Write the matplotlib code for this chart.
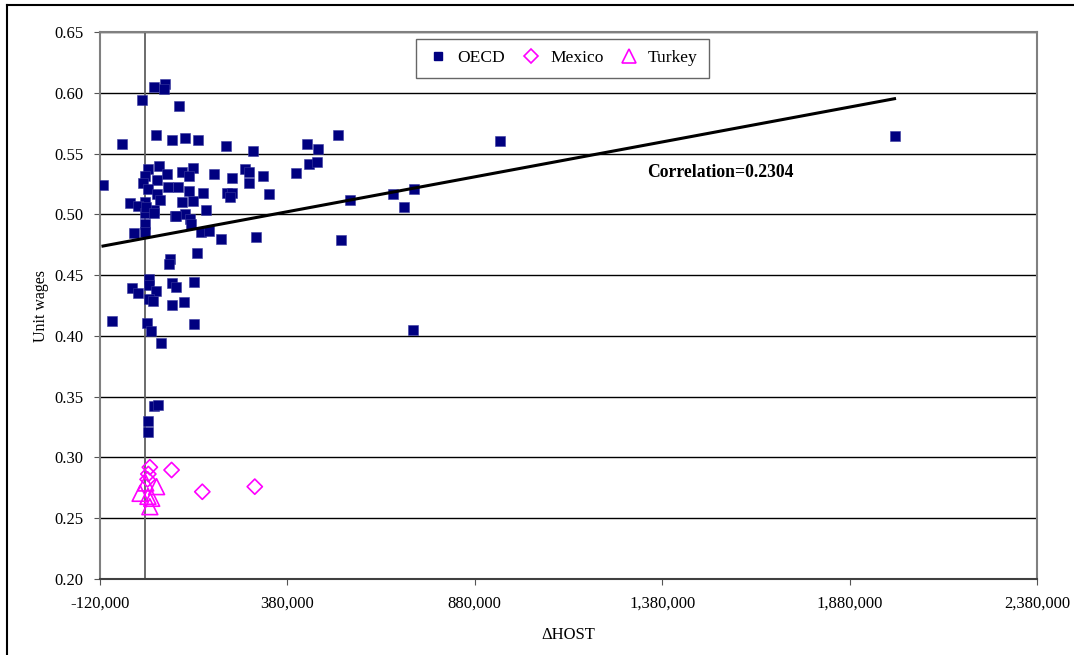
import numpy as np
import matplotlib
matplotlib.use("Agg")
import matplotlib.pyplot as plt
from matplotlib.lines import Line2D

plt.rcParams['font.family'] = ['Liberation Serif', 'DejaVu Serif']

# change in host employment vs unit wages
oecd_x = [23000, 53000, 51000, -9000, 91000, 28500, 71000, 108000, 142000, 216000,
          287000, -62000, -112000, 9000, 38000, 0, 98000, 127000, 58000, 118000,
          33000, 184000, 232000, 266000, 278000, 278000, -4000, 62000, 87000, 9000,
          118000, 154000, 220000, 231000, 227000, 33000, 40000, -41000, 0, 100000,
          129000, 162000, -18000, 23000, 0, 2700, 25000, 80000, 107000, 120000,
          84000, 0, 0, -29000, 124000, 149000, 171000, 203000, 296000, 140000,
          67000, 64000, 10700, 10700, -34000, -18000, 29000, 71000, 83000, 131000,
          10700, 22000, 71000, 104000, -87000, 4400, 15000, 130000, 44000, 24000,
          35500, 9000, 7000, 315000, 331000, 403000, 433000, 463000, 438000, 459000,
          516000, 523000, 548000, 662000, 691000, 719000, 715000, 947000, 2000000]
oecd_y = [0.6045, 0.607, 0.603, 0.594, 0.589, 0.565, 0.561, 0.563, 0.561, 0.556,
          0.552, 0.5576, 0.524, 0.537, 0.540, 0.532, 0.535, 0.538, 0.533, 0.532,
          0.528, 0.533, 0.530, 0.537, 0.535, 0.526, 0.5255, 0.5227, 0.5227, 0.521,
          0.5195, 0.518, 0.518, 0.518, 0.514, 0.517, 0.512, 0.509, 0.510, 0.510,
          0.511, 0.504, 0.507, 0.5036, 0.501, 0.506, 0.5014, 0.4986, 0.500, 0.496,
          0.4986, 0.492, 0.4857, 0.4844, 0.492, 0.4857, 0.4863, 0.480, 0.481, 0.468,
          0.4633, 0.459, 0.447, 0.4416, 0.4391, 0.435, 0.4372, 0.4438, 0.440, 0.4446,
          0.430, 0.4287, 0.4254, 0.4276, 0.4123, 0.4104, 0.4043, 0.4095, 0.3939, 0.3423,
          0.3431, 0.330, 0.3212, 0.532, 0.517, 0.5343, 0.558, 0.5535, 0.5417, 0.5433,
          0.5653, 0.479, 0.5115, 0.5165, 0.5063, 0.521, 0.405, 0.560, 0.5645]

mexico_x = [13000, 71000, 9000, 7000, 153000, 293000]
mexico_y = [0.292, 0.2897, 0.2864, 0.282, 0.2718, 0.276]

turkey_x = [-13000, 31000, 18000, 13000, 2000, 8000]
turkey_y = [0.2705, 0.276, 0.2664, 0.2595, 0.279, 0.268]

# trend line shown on the chart
trend_slope = 5.74e-8
trend_intercept = 0.4804
correlation = 0.2304

fig = plt.figure(figsize=(10.74, 6.55), dpi=100)
ax = fig.add_axes([0.0931, 0.116, 0.8724, 0.835])

ax.set_xlim(-120000, 2380000)
ax.set_ylim(0.20, 0.65)
xticks = np.arange(-120000, 2380001, 500000)
ax.set_xticks(xticks)
ax.set_xticklabels([f"{t:,}" for t in xticks], fontsize=12)
yticks = np.arange(0.20, 0.651, 0.05)
ax.set_yticks(yticks)
ax.set_yticklabels([f"{t:.2f}" for t in yticks], fontsize=12)
ax.tick_params(direction='out', length=4, color='#555555', pad=8)

ax.yaxis.grid(True, color='black', linewidth=1.0)
ax.set_axisbelow(True)
for side in ['left', 'right', 'top']:
    ax.spines[side].set_color('#808080')
    ax.spines[side].set_linewidth(1.5)
ax.spines['bottom'].set_color('#404040')
ax.spines['bottom'].set_linewidth(1.5)

ax.axvline(0, color='#606060', linewidth=1.3, zorder=1)

ax.scatter(oecd_x, oecd_y, marker='s', s=52, color='#000080', edgecolors='#3a3aa0',
           linewidths=0.4, zorder=3)
ax.scatter(mexico_x, mexico_y, marker='D', s=60, facecolors='none', edgecolors='#ff00ff',
           linewidths=1.2, zorder=4)
ax.scatter(turkey_x, turkey_y, marker='^', s=130, facecolors='none', edgecolors='#ff00ff',
           linewidths=1.2, zorder=4)

tx = np.array([min(oecd_x), max(oecd_x)])
ax.plot(tx, trend_slope * tx + trend_intercept, color='black', linewidth=2.2, zorder=5)

ax.text(1341000, 0.5348, f"Correlation={correlation}", fontsize=12.7, fontweight='bold',
        va='center', ha='left')

ax.set_xlabel("ΔHOST", fontsize=12, labelpad=11)
ax.set_ylabel("Unit wages", fontsize=11.5, labelpad=4)

handles = [
    Line2D([], [], linestyle='none', marker='s', markersize=6, color='#000080'),
    Line2D([], [], linestyle='none', marker='D', markersize=7, markerfacecolor='none',
           markeredgecolor='#ff00ff', markeredgewidth=1.2),
    Line2D([], [], linestyle='none', marker='^', markersize=10, markerfacecolor='none',
           markeredgecolor='#ff00ff', markeredgewidth=1.2),
]
leg = ax.legend(handles, ["OECD", "Mexico", "Turkey"], loc='upper center',
                bbox_to_anchor=(0.4936, 0.988), borderaxespad=0, ncol=3, fontsize=12.6,
                frameon=True, fancybox=False, edgecolor='#404040', borderpad=0.65,
                handletextpad=0.45, columnspacing=0.8, handlelength=1.3)
leg.get_frame().set_linewidth(1.0)

# outer chart frame (left and top edges)
fig.add_artist(Line2D([0.0065, 0.0065], [0.0, 0.993], color='black', linewidth=1.5,
                      transform=fig.transFigure))
fig.add_artist(Line2D([0.0065, 1.0], [0.993, 0.993], color='black', linewidth=1.5,
                      transform=fig.transFigure))

fig.savefig("out.png", dpi=100)
